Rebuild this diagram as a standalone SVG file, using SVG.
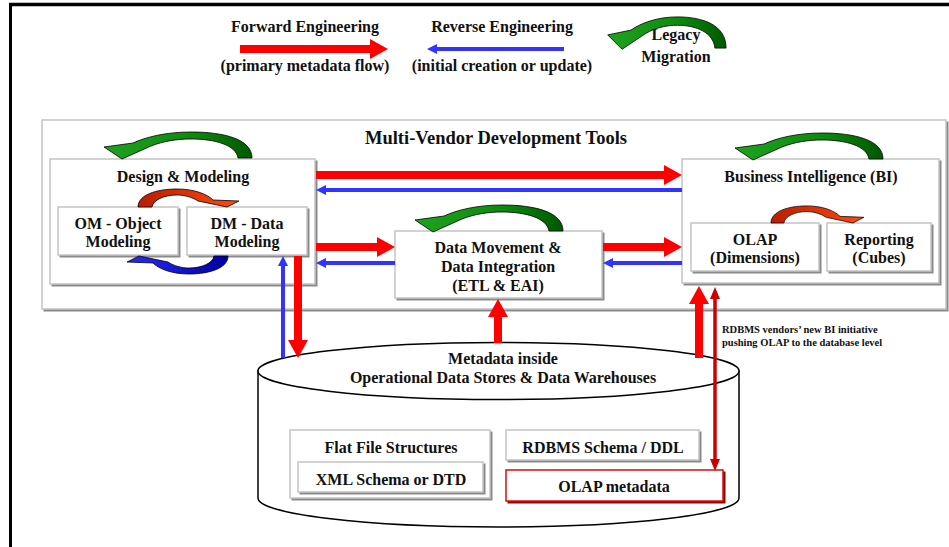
<svg xmlns="http://www.w3.org/2000/svg" xmlns:xlink="http://www.w3.org/1999/xlink" width="949" height="547" viewBox="0 0 949 547">
<style>
text{font-family:"Liberation Serif","Times New Roman",serif;font-weight:bold;fill:#111;text-anchor:middle}
.t16{font-size:16px}
.t18{font-size:18.5px}
.small{font-size:10.5px;text-anchor:start}
.box{fill:#fff;stroke:#c4c4c4;stroke-width:1.5}
.shadow{fill:#8a8a8a}
.red{stroke:#ff0000;stroke-width:8;fill:none}
.blue{stroke:#3333ff;stroke-width:4;fill:none}
.dred{stroke:#cc0000;stroke-width:3.5;fill:none}
.arc{stroke:#000;stroke-width:0.8}
</style>
<defs>
<marker id="rh" markerUnits="userSpaceOnUse" markerWidth="18" markerHeight="20" viewBox="0 0 18 20" refX="0" refY="10" orient="auto"><path d="M0,0 L18,10 L0,20 Z" fill="#ff0000"/></marker>
<marker id="bh" markerUnits="userSpaceOnUse" markerWidth="10" markerHeight="10" viewBox="0 0 10 10" refX="0" refY="5" orient="auto"><path d="M0,0 L10,5 L0,10 Z" fill="#3333ff"/></marker>
<marker id="dh" markerUnits="userSpaceOnUse" markerWidth="12" markerHeight="10" viewBox="0 0 12 10" refX="0" refY="5" orient="auto-start-reverse"><path d="M0,0 L12,5 L0,10 Z" fill="#cc0000"/></marker>
<linearGradient id="gG" x1="0" y1="0" x2="1" y2="0"><stop offset="0" stop-color="#1fa31f"/><stop offset="0.6" stop-color="#0c8a0c"/><stop offset="1" stop-color="#005800"/></linearGradient>
<linearGradient id="gR" x1="0" y1="0" x2="1" y2="0"><stop offset="0" stop-color="#b81e00"/><stop offset="1" stop-color="#ff4a10"/></linearGradient>
<linearGradient id="gB" x1="0" y1="0" x2="1" y2="0"><stop offset="0" stop-color="#0000a0"/><stop offset="1" stop-color="#2a2aff"/></linearGradient>
<path id="greenArc" d="M252,158 C252,139 224,132 191,132 C166,132 146,137 133,143 L104,147 L122,159 L151,146 C164,141 177,139 191,139 C215,139 236,145 238,158 Z"/>
<path id="curlArc" d="M0,0 C0,-12 18,-18 39,-18 C56,-18 69,-13 75,-7 L101,-6 L89,0 L60,-6 C54,-10 46,-12 39,-12 C26,-12 15,-7 14,0 Z"/>
</defs>

<rect width="949" height="547" fill="#fff"/>
<g id="frame">
<line x1="9" y1="4.5" x2="949" y2="4.5" stroke="#000" stroke-width="3.5"/>
<line x1="10.5" y1="3" x2="10.5" y2="547" stroke="#000" stroke-width="3"/>
</g>

<g id="legend">
<text class="t16" x="305" y="32">Forward Engineering</text>
<line class="red" x1="240" y1="49" x2="370" y2="49" stroke-width="9" marker-end="url(#rh)"/>
<text class="t16" x="305" y="71">(primary metadata flow)</text>
<text class="t16" x="502" y="32">Reverse Engineering</text>
<line class="blue" x1="564" y1="49" x2="437" y2="49" stroke-width="5" marker-end="url(#bh)"/>
<text class="t16" x="502" y="71">(initial creation or update)</text>
<use xlink:href="#greenArc" href="#greenArc" class="arc" fill="url(#gG)" transform="matrix(0.8,0,0,1.2,524.5,-141.5)"/>
<text class="t16" x="676" y="40">Legacy</text>
<text class="t16" x="676" y="62">Migration</text>
</g>

<g id="multi-vendor">
<rect class="shadow" x="43.5" y="121.5" width="905" height="190"/>
<rect class="box" x="42" y="120" width="904" height="189"/>
<text class="t18" x="496" y="144">Multi-Vendor Development Tools</text>
</g>

<g id="design-modeling">
<rect class="shadow" x="51.5" y="160.5" width="266" height="126"/>
<rect class="box" x="50" y="159" width="265" height="125"/>
<text class="t16" x="183" y="182">Design &amp; Modeling</text>
<use xlink:href="#greenArc" href="#greenArc" class="arc" fill="url(#gG)"/>
</g>
<g id="om">
<rect class="shadow" x="59.5" y="208.5" width="121" height="49"/>
<rect class="box" x="58" y="207" width="120" height="48"/>
<text class="t16" x="118" y="229">OM - Object</text>
<text class="t16" x="118" y="247">Modeling</text>
</g>
<g id="dm">
<rect class="shadow" x="188.5" y="208.5" width="121" height="49"/>
<rect class="box" x="187" y="207" width="120" height="48"/>
<text class="t16" x="247" y="229">DM - Data</text>
<text class="t16" x="247" y="247">Modeling</text>
</g>
<g id="om-dm-cycle">
<use xlink:href="#curlArc" href="#curlArc" class="arc" fill="url(#gR)" transform="translate(138,207)"/>
<use xlink:href="#curlArc" href="#curlArc" class="arc" fill="url(#gB)" transform="rotate(180 183 231.5) translate(138 207)"/>
</g>

<g id="data-movement">
<rect class="shadow" x="396.5" y="232.5" width="208" height="68"/>
<rect class="box" x="395" y="231" width="207" height="67"/>
<text class="t16" x="498" y="253">Data Movement &amp;</text>
<text class="t16" x="498" y="272">Data Integration</text>
<text class="t16" x="498" y="291">(ETL &amp; EAI)</text>
<use xlink:href="#greenArc" href="#greenArc" class="arc" fill="url(#gG)" transform="translate(311,73)"/>
</g>

<g id="business-intelligence">
<rect class="shadow" x="683.5" y="160.5" width="258" height="125"/>
<rect class="box" x="682" y="159" width="257" height="124"/>
<text class="t16" x="811" y="182">Business Intelligence (BI)</text>
<use xlink:href="#greenArc" href="#greenArc" class="arc" fill="url(#gG)" transform="translate(631,1)"/>
</g>
<g id="olap">
<rect class="shadow" x="692.5" y="224.5" width="129" height="49"/>
<rect class="box" x="691" y="223" width="128" height="48"/>
<text class="t16" x="755" y="245">OLAP</text>
<text class="t16" x="755" y="263">(Dimensions)</text>
</g>
<g id="reporting">
<rect class="shadow" x="828.5" y="224.5" width="105" height="49"/>
<rect class="box" x="827" y="223" width="104" height="48"/>
<text class="t16" x="879" y="245">Reporting</text>
<text class="t16" x="879" y="263">(Cubes)</text>
</g>
<g id="olap-reporting-cycle">
<use xlink:href="#curlArc" href="#curlArc" class="arc" fill="url(#gR)" transform="translate(771,223) scale(0.92,0.95)"/>
</g>

<g id="metadata-store">
<path d="M258,371 V498 A240.5,29 0 0 0 739,498 V371 Z" fill="#fff" stroke="#000" stroke-width="1.5"/>
<ellipse cx="498.5" cy="371" rx="240.5" ry="28.5" fill="#fff" stroke="#000" stroke-width="1.5"/>
<text class="t16" x="503" y="364">Metadata inside</text>
<text class="t16" x="503" y="383">Operational Data Stores &amp; Data Warehouses</text>
</g>
<g id="flat-file">
<rect class="shadow" x="291.5" y="431.5" width="201" height="69"/>
<rect class="box" x="290" y="430" width="200" height="68"/>
<text class="t16" x="391" y="453">Flat File Structures</text>
</g>
<g id="xml-schema">
<rect class="shadow" x="299.5" y="463.5" width="186" height="31"/>
<rect class="box" x="298" y="462" width="185" height="30"/>
<text class="t16" x="391" y="485">XML Schema or DTD</text>
</g>
<g id="rdbms-schema">
<rect class="shadow" x="507.5" y="431.5" width="194" height="31"/>
<rect class="box" x="506" y="430" width="193" height="30"/>
<text class="t16" x="603" y="453">RDBMS Schema / DDL</text>
</g>
<g id="olap-metadata">
<rect x="507.5" y="471.5" width="218" height="32" fill="#990000"/>
<rect x="506" y="470" width="217" height="31" fill="#fff" stroke="#d01010" stroke-width="1.5"/>
<text class="t16" x="614" y="492">OLAP metadata</text>
</g>

<g id="connectors">
<line class="red" x1="316" y1="175" x2="664" y2="175" marker-end="url(#rh)"/>
<line class="blue" x1="682" y1="190" x2="326" y2="190" marker-end="url(#bh)"/>
<line class="red" x1="316" y1="247" x2="377" y2="247" marker-end="url(#rh)"/>
<line class="blue" x1="395" y1="263" x2="326" y2="263" marker-end="url(#bh)"/>
<line class="red" x1="603" y1="247" x2="664" y2="247" marker-end="url(#rh)"/>
<line class="blue" x1="682" y1="263" x2="613" y2="263" marker-end="url(#bh)"/>
<line class="red" x1="298" y1="256" x2="298" y2="340" marker-end="url(#rh)"/>
<line class="blue" x1="283" y1="358" x2="283" y2="266" stroke-width="3.5" marker-end="url(#bh)"/>
<line class="red" x1="498" y1="343" x2="498" y2="317" marker-end="url(#rh)"/>
<line class="red" x1="699" y1="358" x2="699" y2="304" marker-end="url(#rh)"/>
<line class="dred" x1="715" y1="299" x2="715" y2="459" marker-start="url(#dh)" marker-end="url(#dh)"/>
</g>

<g id="note">
<text class="small" x="722" y="333">RDBMS vendors’ new BI initiative</text>
<text class="small" x="722" y="346">pushing OLAP to the database level</text>
</g>
</svg>
